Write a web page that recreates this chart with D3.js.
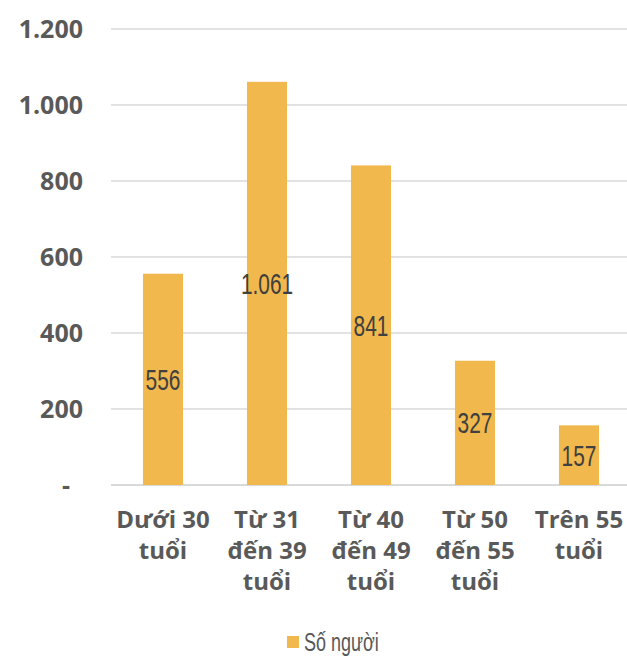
<!DOCTYPE html>
<html>
<head>
<meta charset="utf-8">
<script src="https://cdn.jsdelivr.net/npm/d3@7"></script>
<style>
  html, body { margin: 0; padding: 0; background: #fff; }
  svg { display: block; }
</style>
</head>
<body>
<svg id="chart" width="627" height="659"></svg>
<script>
// Số người theo nhóm tuổi
const categories = [
  ["Dưới 30", "tuổi"],
  ["Từ 31", "đến 39", "tuổi"],
  ["Từ 40", "đến 49", "tuổi"],
  ["Từ 50", "đến 55", "tuổi"],
  ["Trên 55", "tuổi"]
];
const values = [556, 1061, 841, 327, 157];
const yTicks = [0, 200, 400, 600, 800, 1000, 1200];
const seriesName = "Số người";

const W = 627, H = 659;
const margin = { top: 29, right: -4, bottom: 174, left: 111 };
const innerW = W - margin.left - margin.right;
const innerH = H - margin.top - margin.bottom;

const vn = d3.formatLocale({ decimal: ",", thousands: ".", grouping: [3], currency: ["", " đ"] });
const fmt = vn.format(",d");

const svg = d3.select("#chart");
const g = svg.append("g").attr("transform", `translate(${margin.left},${margin.top})`);

const x = d3.scaleBand().domain(d3.range(values.length)).range([0, innerW]).paddingInner(0.615).paddingOuter(0.3075);
const y = d3.scaleLinear().domain([0, 1200]).range([innerH, 0]);

const barColor = "#F1B84D";
const textColor = "#595959";
const narrow = 0.72; // horizontal squeeze for the condensed labels

// gridlines
g.append("g").selectAll("line").data(yTicks).join("line")
  .attr("x1", 0).attr("x2", innerW)
  .attr("y1", d => y(d)).attr("y2", d => y(d))
  .attr("stroke", "#d9d9d9").attr("stroke-width", d => d === 0 ? 2 : 1.5);

// y axis labels
const yAxis = d3.axisLeft(y).tickValues(yTicks).tickSize(0).tickPadding(28)
  .tickFormat(d => d === 0 ? "-" : fmt(d));
g.append("g").call(yAxis)
  .call(s => s.select(".domain").remove())
  .selectAll("text")
  .attr("fill", textColor)
  .style("font-family", "'Open Sans', sans-serif")
  .style("font-weight", "700")
  .style("font-size", "25px");
g.selectAll(".tick text").filter(d => d === 0).attr("dx", -13);

// bars
g.append("g").selectAll("rect").data(values).join("rect")
  .attr("x", (d, i) => x(i))
  .attr("y", d => y(d))
  .attr("width", x.bandwidth())
  .attr("height", d => innerH - y(d))
  .attr("fill", barColor);

// value labels centred in the bars, squeezed to a condensed look
g.append("g").selectAll("text").data(values).join("text")
  .attr("transform", (d, i) => `translate(${x(i) + x.bandwidth() / 2},${(y(d) + innerH) / 2}) scale(${narrow},1)`)
  .attr("dy", "0.36em")
  .attr("text-anchor", "middle")
  .attr("fill", "#404040")
  .style("font-family", "'Liberation Sans', sans-serif")
  .style("font-size", "29px")
  .text(d => fmt(d));

// category labels
const cat = g.append("g").selectAll("text").data(categories).join("text")
  .attr("x", (d, i) => x(i) + x.bandwidth() / 2)
  .attr("y", innerH + 43)
  .attr("text-anchor", "middle")
  .attr("fill", textColor)
  .style("font-family", "'Open Sans', sans-serif")
  .style("font-weight", "700")
  .style("font-size", "24px");
cat.selectAll("tspan").data(d => d).join("tspan")
  .attr("x", function () { return d3.select(this.parentNode).attr("x"); })
  .attr("dy", (d, i) => i === 0 ? 0 : 31)
  .text(d => d);

// legend
const leg = svg.append("g").attr("transform", "translate(287,636)");
leg.append("rect").attr("width", 12).attr("height", 12).attr("fill", barColor);
leg.append("text")
  .attr("transform", `translate(17,6) scale(${narrow},1)`)
  .attr("dy", "0.36em")
  .attr("fill", textColor)
  .style("font-family", "'Liberation Sans', sans-serif")
  .style("font-size", "25px")
  .text(seriesName);
</script>
</body>
</html>
